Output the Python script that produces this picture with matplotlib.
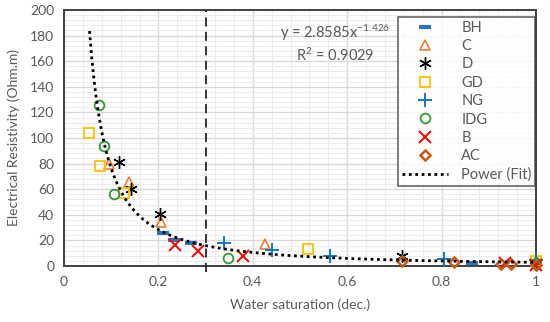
import numpy as np
import matplotlib
matplotlib.use("Agg")
import matplotlib.pyplot as plt
from matplotlib.ticker import MultipleLocator

plt.rcParams['font.family'] = ['Lato', 'DejaVu Sans']
plt.rcParams['mathtext.fontset'] = 'custom'
plt.rcParams['mathtext.rm'] = 'Lato'
plt.rcParams['mathtext.it'] = 'Lato'

# ---- data ----
bh_x = [0.21, 0.234, 0.27, 0.865, 1.0]
bh_y = [26, 20, 18, 2.5, 3]
c_x = [0.095, 0.137, 0.206, 0.425, 1.0]
c_y = [80, 66, 34, 17, 4]
d_x = [0.116, 0.143, 0.204, 0.716, 1.0]
d_y = [81, 60, 41, 8, 3]
gd_x = [0.053, 0.076, 0.127, 0.518, 1.0]
gd_y = [104, 78, 57, 13, 4]
ng_x = [0.338, 0.44, 0.563, 0.806, 1.0]
ng_y = [18, 12.5, 8, 5.5, 5]
idg_x = [0.074, 0.085, 0.106, 0.347, 1.0]
idg_y = [126, 94, 56, 6.5, 2]
b_x = [0.235, 0.283, 0.38, 0.935, 1.0]
b_y = [16.5, 12, 7.5, 2, 1]
ac_x = [0.716, 0.826, 0.925, 0.946, 1.0]
ac_y = [4, 3.5, 1.5, 1.5, 1]

fit_a = 2.8585
fit_b = -1.426
fit_xmin, fit_xmax = 0.054, 1.0
threshold_x = 0.3

fig = plt.figure(figsize=(5.5, 3.22), dpi=100)
ax = fig.add_axes([64/550, 1-266/322, (536-64)/550, (266-10)/322])

gray = '#595959'
ms = 7
series = [
    ('BH', bh_x, bh_y, dict(marker='_', color='#2E75B6', markersize=8, markeredgewidth=3)),
    ('C', c_x, c_y, dict(marker='^', markerfacecolor='none', markeredgecolor='#ED7D31', markersize=ms, markeredgewidth=1.2)),
    ('D', d_x, d_y, dict(marker=(6, 2, 0), color='black', markersize=9, markeredgewidth=1.0)),
    ('GD', gd_x, gd_y, dict(marker='s', markerfacecolor='none', markeredgecolor='#FFC000', markersize=ms, markeredgewidth=1.3)),
    ('NG', ng_x, ng_y, dict(marker='+', color='#0070C0', markersize=10, markeredgewidth=1.3)),
    ('IDG', idg_x, idg_y, dict(marker='o', markerfacecolor='none', markeredgecolor='#339933', markersize=ms, markeredgewidth=1.3)),
    ('B', b_x, b_y, dict(marker='x', color='#FF0000', markersize=8, markeredgewidth=1.4)),
    ('AC', ac_x, ac_y, dict(marker='D', markerfacecolor='none', markeredgecolor='#C55A11', markersize=5.5, markeredgewidth=1.8)),
]
for name, xs, ys, st in series:
    ax.plot(xs, ys, linestyle='none', label=name, zorder=4, clip_on=False, **st)

xf = np.linspace(fit_xmin, fit_xmax, 400)
ax.plot(xf, fit_a * xf ** fit_b, color='black', linestyle=(0, (1, 1.3)), linewidth=2,
        label='Power (Fit)', zorder=5)

ax.axvline(threshold_x, ymin=-0.025, ymax=1, color='#262626', linestyle=(0, (5, 3)),
           linewidth=1.3, clip_on=False, zorder=3)

ax.set_xlim(0, 1)
ax.set_ylim(0, 200)
ax.xaxis.set_major_locator(MultipleLocator(0.2))
ax.xaxis.set_minor_locator(MultipleLocator(0.04))
ax.yaxis.set_major_locator(MultipleLocator(20))
ax.yaxis.set_minor_locator(MultipleLocator(4))
ax.set_xticks([0, 0.2, 0.4, 0.6, 0.8, 1])
ax.set_xticklabels(['0', '0.2', '0.4', '0.6', '0.8', '1'])
ax.grid(which='major', color='#D9D9D9', linewidth=1, zorder=0)
ax.grid(which='minor', color='#EDEDED', linewidth=0.8, zorder=0)
ax.set_axisbelow(True)
ax.tick_params(which='both', length=0, labelsize=10, labelcolor=gray, pad=7)
for sp in ax.spines.values():
    sp.set_color('#404040')
    sp.set_linewidth(1.4)

ax.set_xlabel('Water saturation (dec.)', fontsize=10, color=gray, labelpad=8)
ax.set_ylabel('Electrical Resistivity (Ohm.m)', fontsize=10, color=gray, labelpad=7)

ax.text(0.575, 0.912, r'y = 2.8585x$^{\mathregular{-1.426}}$', transform=ax.transAxes,
        ha='center', va='center', fontsize=10.5, color=gray)
ax.text(0.575, 0.822, r'R$^{\mathregular{2}}$ = 0.9029', transform=ax.transAxes,
        ha='center', va='center', fontsize=10.5, color=gray)

leg = ax.legend(loc='upper left', bbox_to_anchor=((398-64)/472, 1 - (17-10)/256),
                fontsize=10.5, frameon=True, fancybox=False, borderpad=0.25,
                labelspacing=0.3, handlelength=3.2, handletextpad=0.9,
                borderaxespad=0)
leg.get_frame().set_edgecolor('#404040')
leg.get_frame().set_linewidth(1.2)
for t in leg.get_texts():
    t.set_color(gray)

fig.savefig('out.png', dpi=100)
